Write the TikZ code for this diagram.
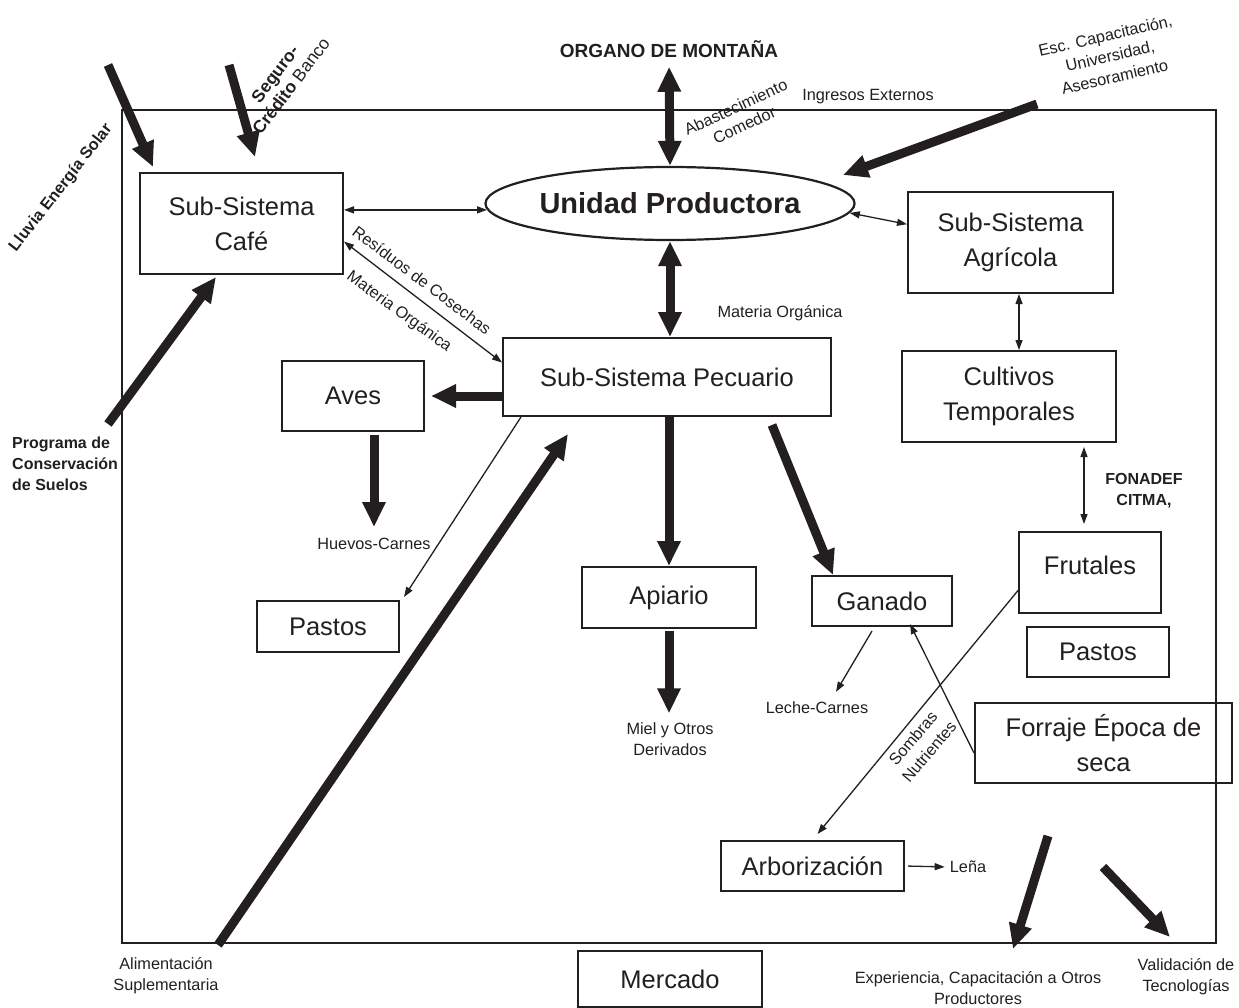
\documentclass[tikz,border=0pt]{standalone}
\usepackage{fontspec}
\setmainfont{Liberation Sans}
\usetikzlibrary{arrows.meta,shapes.geometric}
\definecolor{tinta}{HTML}{231F20}

\tikzset{
	caja/.style={draw, line width=2pt, inner sep=0pt, align=center, font=\fontsize{25.5}{35}\selectfont},
	rotulo/.style={inner sep=1pt, align=center, font=\fontsize{16.3}{21}\selectfont},
	negrita/.style={inner sep=1pt, align=center, font=\fontsize{16}{21}\selectfont\bfseries},
	gruesa/.style={line width=9pt, -{Triangle[length=25pt,width=22pt]}},
	gruesados/.style={line width=9pt, {Triangle[length=25pt,width=22pt]}-{Triangle[length=25pt,width=22pt]}},
	fina/.style={line width=1.3pt, -{Triangle[length=10pt,width=7pt]}},
	finados/.style={line width=1.3pt, {Triangle[length=10pt,width=7pt]}-{Triangle[length=10pt,width=7pt]}},
}

\begin{document}
\begin{tikzpicture}[x=1pt, y=-1pt, color=tinta]
	\useasboundingbox (0,0) rectangle (1239,1008);

	% marco del sistema
	\draw[line width=2pt] (122,110) rectangle (1216,943);

	% cajas
	\node[caja, minimum width=203pt, minimum height=101pt] (cafe) at (241.5,223.5) {Sub-Sistema\\Café};
	\node[draw, ellipse, line width=2.2pt, inner sep=0pt, minimum width=336pt, minimum height=73pt,
		font=\fontsize{29}{34}\selectfont\bfseries] (unidad) at (670,203.5) {Unidad Productora};
	\node[caja, minimum width=205pt, minimum height=101pt] (agricola) at (1010.5,242.5) {Sub-Sistema\\Agrícola};
	\node[caja, minimum width=214pt, minimum height=91pt] (cultivos) at (1009,396.5) {Cultivos\\Temporales};
	\node[caja, minimum width=328pt, minimum height=78pt] (pecuario) at (667,377) {Sub-Sistema Pecuario};
	\node[caja, minimum width=142pt, minimum height=70pt] (aves) at (353,396) {Aves};
	\node[caja, minimum width=142pt, minimum height=51pt] (pastosA) at (328,626.5) {Pastos};
	\node[caja, minimum width=174pt, minimum height=61pt] (apiario) at (669,597.5) {Apiario};
	\node[caja, minimum width=140pt, minimum height=50pt] (ganado) at (882,601) {Ganado};
	\node[caja, minimum width=142pt, minimum height=81pt, text depth=14pt] (frutales) at (1090,572.5) {Frutales};
	\node[caja, minimum width=142pt, minimum height=50pt] (pastosB) at (1098,652) {Pastos};
	\node[caja, minimum width=257pt, minimum height=80pt] (forraje) at (1103.5,743) {Forraje Época de\\seca};
	\node[caja, minimum width=183pt, minimum height=50pt] (arbor) at (812.5,866) {Arborización};
	\node[caja, minimum width=184pt, minimum height=56pt] (mercado) at (670,979) {Mercado};

	% rotulos
	\node[inner sep=1pt, font=\fontsize{19}{23}\selectfont\bfseries] (organo) at (669,49) {ORGANO DE MONTAÑA};
	\node[rotulo] (ingresos) at (868,97) {Ingresos Externos};
	\node[rotulo, rotate=25, font=\fontsize{16.3}{20}\selectfont] (abast) at (740,116) {Abastecimiento\\Comedor};
	\node[rotulo, rotate=13] (esc) at (1110,56) {Esc. Capacitación,\\Universidad,\\Asesoramiento};
	\node[negrita, rotate=52, font=\fontsize{16.3}{20}\selectfont\bfseries] (lluvia) at (61,188) {Lluvia Energía Solar};
	\node[rotulo, rotate=53, font=\fontsize{17.5}{20}\selectfont] (seguro) at (283,80) {\textbf{Seguro-}\\\textbf{Crédito} Banco};
	\node[negrita, align=left, anchor=west, inner sep=0pt] (programa) at (12,464) {Programa de\\Conservación\\de Suelos};
	\node[rotulo, rotate=-37] (residuos) at (422,280) {Resíduos de Cosechas};
	\node[rotulo, rotate=-36] (materiaA) at (399,312) {Materia Orgánica};
	\node[rotulo] (materiaB) at (780,313) {Materia Orgánica};
	\node[rotulo] (huevos) at (374,544) {Huevos-Carnes};
	\node[rotulo] (miel) at (670,739) {Miel y Otros\\Derivados};
	\node[rotulo] (leche) at (817,708) {Leche-Carnes};
	\node[negrita] (fonadef) at (1144,491) {FONADEF\\CITMA,};
	\node[rotulo, rotate=50] (sombras) at (921,745) {Sombras\\Nutrientes};
	\node[rotulo] (lena) at (968,867) {Leña};
	\node[rotulo] (alim) at (166,976) {Alimentación\\Suplementaria};
	\node[rotulo] (exper) at (978,988) {Experiencia, Capacitación a Otros\\Productores};
	\node[rotulo] (valid) at (1186,977) {Validación de\\Tecnologías};

	% extremos libres
	\coordinate (lluviaA) at (108,65);
	\coordinate (lluviaB) at (153,167);
	\coordinate (seguroA) at (229,65);
	\coordinate (seguroB) at (255,157);
	\coordinate (progA) at (108,424);
	\coordinate (progB) at (216,277);
	\coordinate (escA) at (1037,104);
	\coordinate (escB) at (843,175);
	\coordinate (alimA) at (218,945);
	\coordinate (alimB) at (568,434);
	\coordinate (experA) at (1048,836);
	\coordinate (experB) at (1013,949);
	\coordinate (validA) at (1103,867);
	\coordinate (validB) at (1170,937);

	% flechas gruesas
	\draw[gruesa] (lluviaA) -- (lluviaB);
	\draw[gruesa] (seguroA) -- (seguroB);
	\draw[gruesa] (progA) -- (progB);
	\draw[gruesa] (escA) -- (escB);
	\draw[gruesa] (alimA) -- (alimB);
	\draw[gruesa] (experA) -- (experB);
	\draw[gruesa] (validA) -- (validB);
	\draw[gruesados, shorten <=8pt] (organo.south) -- (unidad.north);
	\draw[gruesados] (unidad.south) -- (unidad.south |- pecuario.north);
	\draw[gruesa, shorten >=6pt] (pecuario.west |- aves.east) -- (aves.east);
	\draw[gruesa, shorten <=3pt, shorten >=10pt] (aves.south -| huevos.north) -- (huevos.north);
	\draw[gruesa] (apiario.north |- pecuario.south) -- (apiario.north);
	\draw[gruesa, shorten <=2pt, shorten >=8pt] (apiario.south) -- (apiario.south |- miel.north);
	\draw[gruesa] ([shift={(105pt,-8pt)}]pecuario.south) -- ([xshift=22pt]ganado.north west);

	% flechas finas
	\draw[finados] (cafe.east |- unidad.182) -- (unidad.182);
	\draw[finados] (unidad.-3) -- (agricola.170);
	\draw[finados] (cafe.-10) -- (pecuario.175);
	\draw[finados] ([xshift=8.5pt]agricola.south) -- ([xshift=10pt]cultivos.north);
	\draw[finados, shorten <=4pt, shorten >=7pt] ([xshift=75pt]cultivos.south) -- ([xshift=-6pt]frutales.north);
	\draw[fina] ([xshift=19pt]pecuario.south west) -- ([shift={(4pt,3pt)}]pastosA.north east);
	\draw[fina] ([shift={(-10pt,-4pt)}]ganado.south) -- ([shift={(19pt,9pt)}]leche.north);
	\draw[fina] ([yshift=-10pt]forraje.west) -- ([shift={(28pt,3pt)}]ganado.south);
	\draw[fina] ([yshift=-18pt]frutales.west) -- ([shift={(5pt,6pt)}]arbor.north);
	\draw[fina, shorten <=3pt, shorten >=4pt] (arbor.east) -- (lena.west);
\end{tikzpicture}
\end{document}
